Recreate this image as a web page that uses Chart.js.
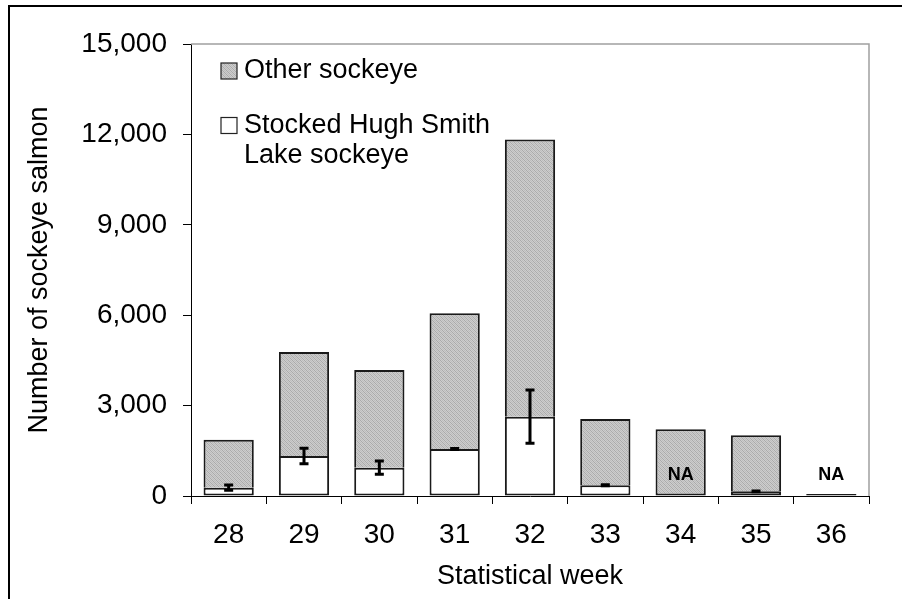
<!DOCTYPE html>
<html>
<head>
<meta charset="utf-8">
<script src="https://cdn.jsdelivr.net/npm/chart.js@4"></script>
<style>
  html, body { margin: 0; padding: 0; background: #fff; }
  #wrap { position: relative; width: 902px; height: 599px; }
</style>
</head>
<body>
<div id="wrap"><canvas id="c" width="902" height="599"></canvas></div>
<script>
// Weekly sockeye counts by statistical week
const weeks = ['28', '29', '30', '31', '32', '33', '34', '35', '36'];
const stockedHughSmith = [276, 1328, 940, 1560, 2633, 355, null, 155, null];
const stockedError = [85, 260, 220, 15, 885, 15, null, 15, null];
const otherSockeye = [1594, 3452, 3242, 4503, 9197, 2200, 2213, 1859, 70];
const yTicks = [0, 3000, 6000, 9000, 12000, 15000];
const seriesLabels = ['Stocked Hugh Smith Lake sockeye', 'Other sockeye'];
const legendLines = { 'Other sockeye': ['Other sockeye'], 'Stocked Hugh Smith Lake sockeye': ['Stocked Hugh Smith', 'Lake sockeye'] };

const FONT = '"Liberation Sans", Arial, sans-serif';

// Fine grey hatch used for the "other" portion
function makeHatch() {
  const p = document.createElement('canvas');
  p.width = 4; p.height = 4;
  const g = p.getContext('2d');
  g.fillStyle = '#cdcdcd';
  g.fillRect(0, 0, 4, 4);
  g.fillStyle = '#aaaaaa';
  for (let i = 0; i < 4; i++) g.fillRect(i, i % 4, 1, 1);
  g.fillStyle = '#bcbcbc';
  for (let i = 0; i < 4; i++) g.fillRect(i, (i + 2) % 4, 1, 1);
  return g.createPattern(p, 'repeat');
}
const hatch = makeHatch();

// Error bars, NA markers, plot frame, custom legend and outer frame
const decorations = {
  id: 'decorations',
  afterDatasetsDraw(chart) {
    const ctx = chart.ctx;
    const xs = chart.scales.x, ys = chart.scales.y;
    const area = chart.chartArea;
    ctx.save();

    // error bars on the stocked segment
    ctx.strokeStyle = '#000';
    ctx.lineWidth = 3;
    ctx.lineCap = 'butt';
    stockedHughSmith.forEach((v, i) => {
      if (v === null || stockedError[i] === null) return;
      const x = xs.getPixelForValue(i);
      const yHi = ys.getPixelForValue(v + stockedError[i]);
      const yLo = ys.getPixelForValue(v - stockedError[i]);
      ctx.beginPath();
      ctx.moveTo(x, yHi); ctx.lineTo(x, yLo);
      ctx.moveTo(x - 4.5, yHi); ctx.lineTo(x + 4.5, yHi);
      ctx.moveTo(x - 4.5, yLo); ctx.lineTo(x + 4.5, yLo);
      ctx.stroke();
    });

    // NA where no stocked estimate exists
    ctx.fillStyle = '#000';
    ctx.font = 'bold 18px ' + FONT;
    ctx.textAlign = 'center';
    ctx.textBaseline = 'middle';
    stockedHughSmith.forEach((v, i) => {
      if (v !== null) return;
      const x = xs.getPixelForValue(i);
      ctx.fillText('NA', x, ys.getPixelForValue(0) - 21);
    });

    // grey frame on top and right of the plot area
    ctx.strokeStyle = '#a0a0a0';
    ctx.lineWidth = 1.5;
    ctx.beginPath();
    ctx.moveTo(area.left, area.top);
    ctx.lineTo(area.right, area.top);
    ctx.lineTo(area.right, area.bottom);
    ctx.stroke();

    // legend
    const entries = [
      { label: seriesLabels[1], fill: hatch, y: 71 },
      { label: seriesLabels[0], fill: '#fff', y: 125.5 }
    ];
    ctx.font = '27px ' + FONT;
    ctx.textAlign = 'left';
    ctx.textBaseline = 'middle';
    entries.forEach(e => {
      ctx.fillStyle = e.fill;
      ctx.fillRect(221, e.y - 8, 16, 16);
      ctx.strokeStyle = '#222';
      ctx.lineWidth = 1.2;
      ctx.strokeRect(221, e.y - 8, 16, 16);
      ctx.fillStyle = '#000';
      legendLines[e.label].forEach((line, k) => ctx.fillText(line, 244, e.y + k * 30));
    });

    // outer frame lines
    ctx.fillStyle = '#000';
    ctx.fillRect(8, 5, 894, 2);
    ctx.fillRect(8, 5, 2, 594);
    ctx.restore();
  }
};

new Chart(document.getElementById('c'), {
  type: 'bar',
  data: {
    labels: weeks,
    datasets: [
      {
        label: seriesLabels[0],
        data: stockedHughSmith,
        backgroundColor: '#fff',
        borderColor: '#1a1a1a',
        borderWidth: 2,
        borderSkipped: false,
        categoryPercentage: 1,
        barPercentage: 0.667
      },
      {
        label: seriesLabels[1],
        data: otherSockeye,
        backgroundColor: hatch,
        borderColor: '#1a1a1a',
        borderWidth: 2,
        // share the edge with the stocked segment below when there is one
        borderSkipped: c => (stockedHughSmith[c.dataIndex] === null ? false : 'bottom'),
        categoryPercentage: 1,
        barPercentage: 0.667
      }
    ]
  },
  options: {
    responsive: false,
    animation: false,
    devicePixelRatio: 1,
    layout: { padding: { top: 44, right: 33, left: 0, bottom: 0 } },
    plugins: { legend: { display: false }, tooltip: { enabled: false } },
    scales: {
      x: {
        stacked: true,
        afterFit(s) { s.height = 103; },
        grid: { display: true, drawOnChartArea: false, drawTicks: true, tickLength: 8, color: '#000', lineWidth: 1, offset: true },
        border: { display: true, color: '#000', width: 1 },
        ticks: { color: '#000', font: { family: FONT, size: 28 }, padding: 14, maxRotation: 0 },
        title: { display: true, text: 'Statistical week', color: '#000', font: { family: FONT, size: 27 }, padding: { top: 0, bottom: 6 } }
      },
      y: {
        stacked: true,
        min: 0,
        max: 15000,
        afterFit(s) { s.width = 191; },
        afterBuildTicks(s) { s.ticks = yTicks.map(v => ({ value: v })); },
        grid: { display: true, drawOnChartArea: false, drawTicks: true, tickLength: 8, color: '#000', lineWidth: 1 },
        border: { display: true, color: '#000', width: 1 },
        ticks: {
          color: '#000',
          font: { family: FONT, size: 28 },
          padding: 16,
          callback: v => Number(v).toLocaleString('en-US')
        },
        title: { display: true, text: 'Number of sockeye salmon', color: '#000', font: { family: FONT, size: 27 }, padding: { top: 23, bottom: 0 } }
      }
    }
  },
  plugins: [decorations]
});
</script>
</body>
</html>
